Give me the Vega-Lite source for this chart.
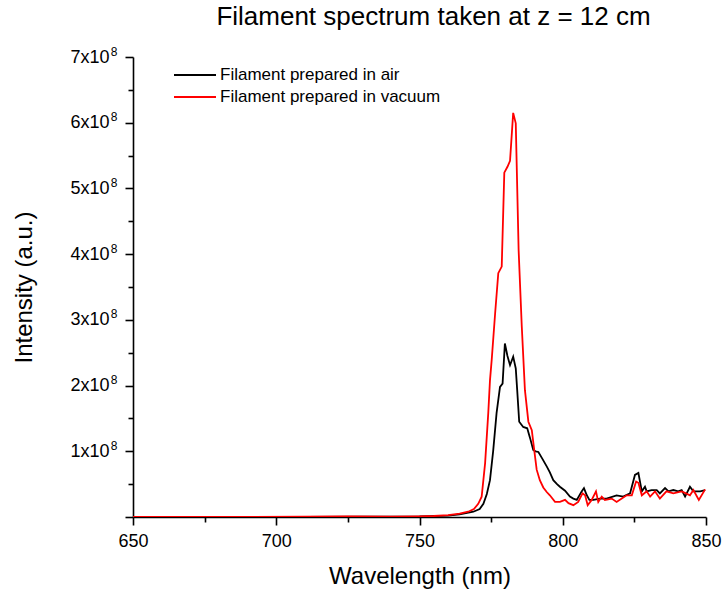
{
  "$schema": "https://vega.github.io/schema/vega-lite/v6.json",
  "width": 573,
  "height": 460,
  "autosize": {"type": "none"},
  "padding": {"left": 133, "top": 57, "right": 16, "bottom": 78},
  "background": "white",
  "config": {
    "font": "Liberation Sans",
    "view": {"stroke": null},
    "axis": {"grid": false, "domainColor": "black", "tickColor": "black", "labelColor": "black", "titleColor": "black", "domainWidth": 1.6, "tickWidth": 1.6, "titleFontWeight": "normal", "labelFlush": false, "labelOverlap": false}
  },
  "title": {"text": "Filament spectrum taken at z = 12 cm", "fontSize": 26, "fontWeight": "normal", "font": "Liberation Sans", "color": "black", "offset": 15, "dx": 14},
  "data": {"values": [
    {"w": 650, "s": "Filament prepared in air", "v": 0},
    {"w": 680, "s": "Filament prepared in air", "v": 0},
    {"w": 710, "s": "Filament prepared in air", "v": 0.003},
    {"w": 730, "s": "Filament prepared in air", "v": 0.004},
    {"w": 750, "s": "Filament prepared in air", "v": 0.008},
    {"w": 760, "s": "Filament prepared in air", "v": 0.02},
    {"w": 764, "s": "Filament prepared in air", "v": 0.04},
    {"w": 768.8, "s": "Filament prepared in air", "v": 0.08},
    {"w": 771, "s": "Filament prepared in air", "v": 0.12},
    {"w": 772.3, "s": "Filament prepared in air", "v": 0.2},
    {"w": 773.5, "s": "Filament prepared in air", "v": 0.35},
    {"w": 774.6, "s": "Filament prepared in air", "v": 0.56},
    {"w": 775.7, "s": "Filament prepared in air", "v": 1.0},
    {"w": 776.9, "s": "Filament prepared in air", "v": 1.58},
    {"w": 778.1, "s": "Filament prepared in air", "v": 1.98},
    {"w": 779.0, "s": "Filament prepared in air", "v": 2.03},
    {"w": 779.8, "s": "Filament prepared in air", "v": 2.64},
    {"w": 780.7, "s": "Filament prepared in air", "v": 2.45},
    {"w": 781.6, "s": "Filament prepared in air", "v": 2.31},
    {"w": 782.7, "s": "Filament prepared in air", "v": 2.44},
    {"w": 783.6, "s": "Filament prepared in air", "v": 2.26},
    {"w": 784.1, "s": "Filament prepared in air", "v": 1.93},
    {"w": 784.8, "s": "Filament prepared in air", "v": 1.45},
    {"w": 786.2, "s": "Filament prepared in air", "v": 1.37},
    {"w": 787.6, "s": "Filament prepared in air", "v": 1.35},
    {"w": 788.6, "s": "Filament prepared in air", "v": 1.2},
    {"w": 789.7, "s": "Filament prepared in air", "v": 1.02},
    {"w": 790.5, "s": "Filament prepared in air", "v": 1.0},
    {"w": 791.5, "s": "Filament prepared in air", "v": 0.99},
    {"w": 792.7, "s": "Filament prepared in air", "v": 0.9},
    {"w": 794.4, "s": "Filament prepared in air", "v": 0.77},
    {"w": 795.5, "s": "Filament prepared in air", "v": 0.68},
    {"w": 796.7, "s": "Filament prepared in air", "v": 0.56},
    {"w": 798, "s": "Filament prepared in air", "v": 0.5},
    {"w": 799, "s": "Filament prepared in air", "v": 0.46},
    {"w": 800.8, "s": "Filament prepared in air", "v": 0.4},
    {"w": 802.5, "s": "Filament prepared in air", "v": 0.31},
    {"w": 803.7, "s": "Filament prepared in air", "v": 0.28},
    {"w": 804.9, "s": "Filament prepared in air", "v": 0.26},
    {"w": 806.6, "s": "Filament prepared in air", "v": 0.39},
    {"w": 807.4, "s": "Filament prepared in air", "v": 0.44},
    {"w": 808.4, "s": "Filament prepared in air", "v": 0.33},
    {"w": 809.3, "s": "Filament prepared in air", "v": 0.26},
    {"w": 810.7, "s": "Filament prepared in air", "v": 0.26},
    {"w": 813.0, "s": "Filament prepared in air", "v": 0.28},
    {"w": 815.3, "s": "Filament prepared in air", "v": 0.28},
    {"w": 818.8, "s": "Filament prepared in air", "v": 0.33},
    {"w": 821.1, "s": "Filament prepared in air", "v": 0.31},
    {"w": 823.5, "s": "Filament prepared in air", "v": 0.36},
    {"w": 825.2, "s": "Filament prepared in air", "v": 0.64},
    {"w": 826.4, "s": "Filament prepared in air", "v": 0.67},
    {"w": 827.6, "s": "Filament prepared in air", "v": 0.39},
    {"w": 828.7, "s": "Filament prepared in air", "v": 0.46},
    {"w": 829.3, "s": "Filament prepared in air", "v": 0.39},
    {"w": 831.0, "s": "Filament prepared in air", "v": 0.41},
    {"w": 832.8, "s": "Filament prepared in air", "v": 0.41},
    {"w": 833.9, "s": "Filament prepared in air", "v": 0.36},
    {"w": 835.7, "s": "Filament prepared in air", "v": 0.44},
    {"w": 836.9, "s": "Filament prepared in air", "v": 0.39},
    {"w": 838.6, "s": "Filament prepared in air", "v": 0.41},
    {"w": 840.3, "s": "Filament prepared in air", "v": 0.39},
    {"w": 841.5, "s": "Filament prepared in air", "v": 0.41},
    {"w": 842.7, "s": "Filament prepared in air", "v": 0.31},
    {"w": 844.4, "s": "Filament prepared in air", "v": 0.46},
    {"w": 845.6, "s": "Filament prepared in air", "v": 0.39},
    {"w": 848.0, "s": "Filament prepared in air", "v": 0.39},
    {"w": 849.7, "s": "Filament prepared in air", "v": 0.41},
    {"w": 650, "s": "Filament prepared in vacuum", "v": 0},
    {"w": 680, "s": "Filament prepared in vacuum", "v": 0.002},
    {"w": 710, "s": "Filament prepared in vacuum", "v": 0.005},
    {"w": 725, "s": "Filament prepared in vacuum", "v": 0.008},
    {"w": 740, "s": "Filament prepared in vacuum", "v": 0.007},
    {"w": 750, "s": "Filament prepared in vacuum", "v": 0.01},
    {"w": 755, "s": "Filament prepared in vacuum", "v": 0.015},
    {"w": 760, "s": "Filament prepared in vacuum", "v": 0.03},
    {"w": 764, "s": "Filament prepared in vacuum", "v": 0.05},
    {"w": 767, "s": "Filament prepared in vacuum", "v": 0.08},
    {"w": 769, "s": "Filament prepared in vacuum", "v": 0.12},
    {"w": 770.5, "s": "Filament prepared in vacuum", "v": 0.2},
    {"w": 771.7, "s": "Filament prepared in vacuum", "v": 0.31},
    {"w": 772.9, "s": "Filament prepared in vacuum", "v": 0.82},
    {"w": 774.0, "s": "Filament prepared in vacuum", "v": 1.58},
    {"w": 774.6, "s": "Filament prepared in vacuum", "v": 2.08},
    {"w": 775.2, "s": "Filament prepared in vacuum", "v": 2.39},
    {"w": 776.4, "s": "Filament prepared in vacuum", "v": 3.1},
    {"w": 777.5, "s": "Filament prepared in vacuum", "v": 3.71},
    {"w": 778.7, "s": "Filament prepared in vacuum", "v": 3.81},
    {"w": 779.6, "s": "Filament prepared in vacuum", "v": 5.24},
    {"w": 780.7, "s": "Filament prepared in vacuum", "v": 5.33},
    {"w": 781.6, "s": "Filament prepared in vacuum", "v": 5.42},
    {"w": 782.7, "s": "Filament prepared in vacuum", "v": 6.15},
    {"w": 783.6, "s": "Filament prepared in vacuum", "v": 5.99},
    {"w": 784.6, "s": "Filament prepared in vacuum", "v": 4.06},
    {"w": 785.7, "s": "Filament prepared in vacuum", "v": 2.9},
    {"w": 786.8, "s": "Filament prepared in vacuum", "v": 1.93},
    {"w": 788.0, "s": "Filament prepared in vacuum", "v": 1.45},
    {"w": 789.2, "s": "Filament prepared in vacuum", "v": 1.32},
    {"w": 790.1, "s": "Filament prepared in vacuum", "v": 1.0},
    {"w": 790.9, "s": "Filament prepared in vacuum", "v": 0.72},
    {"w": 792.0, "s": "Filament prepared in vacuum", "v": 0.56},
    {"w": 793.2, "s": "Filament prepared in vacuum", "v": 0.45},
    {"w": 794.4, "s": "Filament prepared in vacuum", "v": 0.38},
    {"w": 795.5, "s": "Filament prepared in vacuum", "v": 0.33},
    {"w": 797.3, "s": "Filament prepared in vacuum", "v": 0.23},
    {"w": 799.0, "s": "Filament prepared in vacuum", "v": 0.23},
    {"w": 800.8, "s": "Filament prepared in vacuum", "v": 0.26},
    {"w": 802.0, "s": "Filament prepared in vacuum", "v": 0.21},
    {"w": 803.7, "s": "Filament prepared in vacuum", "v": 0.18},
    {"w": 805.4, "s": "Filament prepared in vacuum", "v": 0.23},
    {"w": 806.9, "s": "Filament prepared in vacuum", "v": 0.36},
    {"w": 807.8, "s": "Filament prepared in vacuum", "v": 0.33},
    {"w": 808.7, "s": "Filament prepared in vacuum", "v": 0.18},
    {"w": 810.1, "s": "Filament prepared in vacuum", "v": 0.26},
    {"w": 811.6, "s": "Filament prepared in vacuum", "v": 0.39},
    {"w": 812.4, "s": "Filament prepared in vacuum", "v": 0.23},
    {"w": 813.6, "s": "Filament prepared in vacuum", "v": 0.31},
    {"w": 814.7, "s": "Filament prepared in vacuum", "v": 0.26},
    {"w": 817.1, "s": "Filament prepared in vacuum", "v": 0.28},
    {"w": 818.8, "s": "Filament prepared in vacuum", "v": 0.23},
    {"w": 820.6, "s": "Filament prepared in vacuum", "v": 0.28},
    {"w": 822.3, "s": "Filament prepared in vacuum", "v": 0.33},
    {"w": 824.1, "s": "Filament prepared in vacuum", "v": 0.33},
    {"w": 825.6, "s": "Filament prepared in vacuum", "v": 0.54},
    {"w": 826.4, "s": "Filament prepared in vacuum", "v": 0.52},
    {"w": 827.6, "s": "Filament prepared in vacuum", "v": 0.33},
    {"w": 829.3, "s": "Filament prepared in vacuum", "v": 0.39},
    {"w": 830.5, "s": "Filament prepared in vacuum", "v": 0.31},
    {"w": 832.2, "s": "Filament prepared in vacuum", "v": 0.39},
    {"w": 833.9, "s": "Filament prepared in vacuum", "v": 0.28},
    {"w": 836.2, "s": "Filament prepared in vacuum", "v": 0.39},
    {"w": 838.6, "s": "Filament prepared in vacuum", "v": 0.36},
    {"w": 841.5, "s": "Filament prepared in vacuum", "v": 0.39},
    {"w": 843.0, "s": "Filament prepared in vacuum", "v": 0.36},
    {"w": 844.4, "s": "Filament prepared in vacuum", "v": 0.33},
    {"w": 845.6, "s": "Filament prepared in vacuum", "v": 0.41},
    {"w": 847.5, "s": "Filament prepared in vacuum", "v": 0.26},
    {"w": 849.7, "s": "Filament prepared in vacuum", "v": 0.42}
  ]},
  "layer": [
    {
      "mark": {"type": "point", "opacity": 0},
      "encoding": {
        "x": {"field": "w", "type": "quantitative", "scale": {"domain": [650, 850], "nice": false, "zero": false},
              "axis": {"orient": "bottom", "values": [675, 725, 775, 825], "labels": false, "domain": false, "tickSize": 5, "title": null}},
        "y": {"field": "v", "type": "quantitative", "scale": {"domain": [0, 7], "nice": false},
              "axis": {"orient": "left", "values": [0.5, 1.5, 2.5, 3.5, 4.5, 5.5, 6.5], "labels": false, "domain": false, "tickSize": 5, "title": null}}
      }
    },
    {
      "mark": {"type": "point", "opacity": 0},
      "encoding": {
        "x": {"field": "w", "type": "quantitative", "scale": {"domain": [650, 850], "nice": false, "zero": false},
              "axis": null},
        "y": {"field": "v", "type": "quantitative", "scale": {"domain": [0, 7], "nice": false},
              "axis": {"orient": "left", "values": [1, 2, 3, 4, 5, 6, 7], "labelExpr": "'8'", "ticks": false, "domain": false, "labelFontSize": 12, "labelPadding": 16, "labelBaseline": "middle", "labelOffset": -6, "title": null}}
      }
    },
    {
      "mark": {"type": "line", "strokeWidth": 1.8, "clip": true},
      "encoding": {
        "x": {"field": "w", "type": "quantitative", "scale": {"domain": [650, 850], "nice": false, "zero": false},
              "axis": {"orient": "bottom", "values": [650, 700, 750, 800, 850], "tickSize": 8, "labelFontSize": 18, "labelPadding": 7, "title": "Wavelength (nm)", "titleFontSize": 24, "titlePadding": 14}},
        "y": {"field": "v", "type": "quantitative", "scale": {"domain": [0, 7], "nice": false},
              "axis": {"orient": "left", "values": [0, 1, 2, 3, 4, 5, 6, 7], "tickSize": 8, "labelFontSize": 18, "labelPadding": 16,
                       "labelExpr": "datum.value == 0 ? '' : datum.value + 'x10'",
                       "title": "Intensity (a.u.)", "titleFontSize": 24, "titlePadding": 33}},
        "color": {"field": "s", "type": "nominal",
                  "scale": {"domain": ["Filament prepared in air", "Filament prepared in vacuum"], "range": ["black", "red"]},
                  "legend": {"title": null, "orient": "none", "legendX": 40, "legendY": 8, "symbolType": "stroke", "symbolSize": 1764, "symbolStrokeWidth": 1.8, "labelFontSize": 17, "labelColor": "black", "labelLimit": 0, "clipHeight": 20, "rowPadding": 2, "labelOffset": 3, "symbolOffset": 0}}
      }
    }
  ],
  "resolve": {"axis": {"x": "independent", "y": "independent"}}
}
